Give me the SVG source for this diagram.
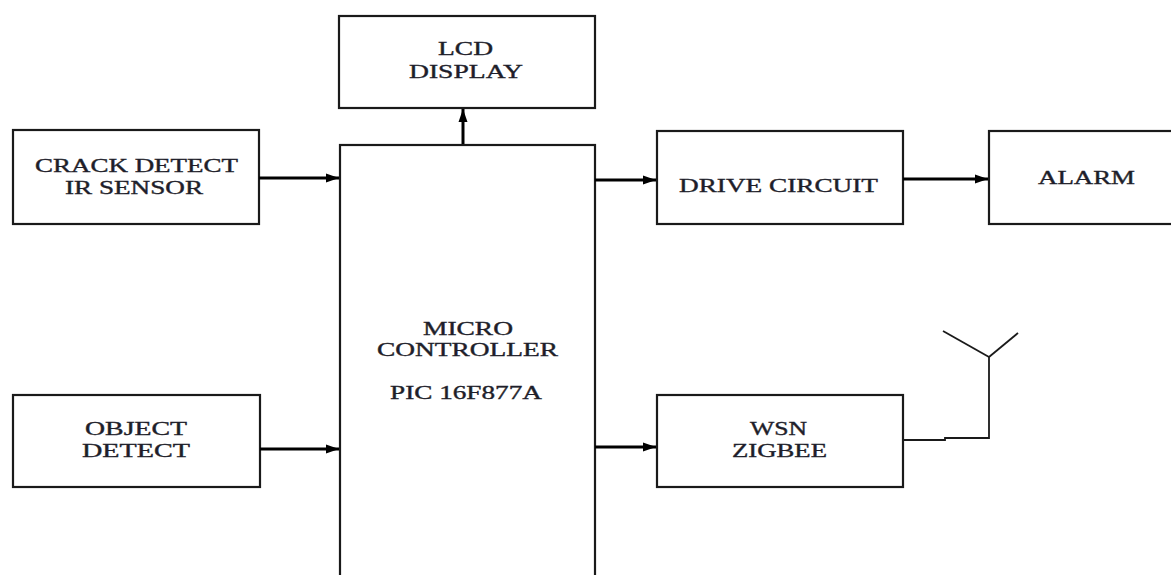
<svg xmlns="http://www.w3.org/2000/svg" width="1171" height="575" viewBox="0 0 1171 575">
<defs>
<style>
.box{fill:#fff;stroke:#1a1a1a;stroke-width:2.2}
.lbl{font-family:"Liberation Serif","DejaVu Serif",serif;font-size:18px;fill:#1e1e2a;stroke:#1e1e2a;stroke-width:0.35}
.con{fill:none;stroke:#000;stroke-width:3}
.ant{fill:none;stroke:#1a1a1a;stroke-width:1.8}
</style>
<marker id="ah" markerUnits="userSpaceOnUse" markerWidth="14" markerHeight="12" refX="13" refY="6" orient="auto">
<path d="M0,1.5 L13,6 L0,10.5 z" fill="#000"/>
</marker>
</defs>
<rect width="1171" height="575" fill="#fff"/>
<g id="crack">
<rect class="box" x="13" y="130" width="246" height="94"/>
<text class="lbl" x="35" y="172" textLength="203" lengthAdjust="spacingAndGlyphs">CRACK DETECT</text>
<text class="lbl" x="65" y="194" textLength="138" lengthAdjust="spacingAndGlyphs">IR SENSOR</text>
</g>
<g id="lcd">
<rect class="box" x="339" y="16" width="256" height="92"/>
<text class="lbl" x="438" y="55" textLength="55" lengthAdjust="spacingAndGlyphs">LCD</text>
<text class="lbl" x="409" y="78" textLength="114" lengthAdjust="spacingAndGlyphs">DISPLAY</text>
</g>
<g id="mc">
<rect class="box" x="340" y="145" width="255" height="440"/>
<text class="lbl" x="423" y="335" textLength="90" lengthAdjust="spacingAndGlyphs">MICRO</text>
<text class="lbl" x="377" y="356" textLength="181" lengthAdjust="spacingAndGlyphs">CONTROLLER</text>
<text class="lbl" x="390" y="399" textLength="152" lengthAdjust="spacingAndGlyphs">PIC 16F877A</text>
</g>
<g id="drive">
<rect class="box" x="657" y="131" width="246" height="93"/>
<text class="lbl" x="679" y="192" textLength="199" lengthAdjust="spacingAndGlyphs">DRIVE CIRCUIT</text>
</g>
<g id="alarm">
<rect class="box" x="989" y="131" width="190" height="93"/>
<text class="lbl" x="1038" y="184" textLength="97" lengthAdjust="spacingAndGlyphs">ALARM</text>
</g>
<g id="object">
<rect class="box" x="13" y="395" width="247" height="92"/>
<text class="lbl" x="85" y="435" textLength="102" lengthAdjust="spacingAndGlyphs">OBJECT</text>
<text class="lbl" x="82" y="457" textLength="108" lengthAdjust="spacingAndGlyphs">DETECT</text>
</g>
<g id="wsn">
<rect class="box" x="657" y="395" width="246" height="92"/>
<text class="lbl" x="750" y="435" textLength="57" lengthAdjust="spacingAndGlyphs">WSN</text>
<text class="lbl" x="732" y="457" textLength="95" lengthAdjust="spacingAndGlyphs">ZIGBEE</text>
</g>
<g id="antenna">
<polyline class="ant" points="903,440 945,440 945,438 989,438 989,357"/>
<line class="ant" x1="989" y1="357" x2="943" y2="331"/>
<line class="ant" x1="989" y1="357" x2="1018" y2="333"/>
</g>
<g id="connectors">
<line class="con" x1="259" y1="178" x2="339" y2="178" marker-end="url(#ah)"/>
<line class="con" x1="260" y1="449" x2="339" y2="449" marker-end="url(#ah)"/>
<line class="con" x1="463" y1="144" x2="463" y2="109" stroke-width="4" marker-end="url(#ah)"/>
<line class="con" x1="595" y1="180" x2="656" y2="180" marker-end="url(#ah)"/>
<line class="con" x1="903" y1="179" x2="988" y2="179" marker-end="url(#ah)"/>
<line class="con" x1="595" y1="447" x2="656" y2="447" marker-end="url(#ah)"/>
</g>
</svg>
